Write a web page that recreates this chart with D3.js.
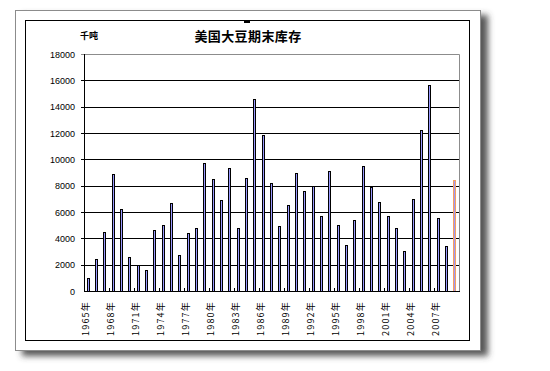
<!DOCTYPE html>
<html>
<head>
<meta charset="utf-8">
<script src="https://cdn.jsdelivr.net/npm/d3@7"></script>
<style>
  body { margin: 0; background: #fff; }
  svg { display: block; }
</style>
</head>
<body>
<div id="chart"></div>
<script>
// 美国大豆期末库存, 千吨
var years = d3.range(1965, 2010);
var stocks = [950, 2400, 4500, 8850, 6200, 2600, 1950, 1600, 4600, 5050,
              6650, 2770, 4370, 4750, 9700, 8480, 6880, 9320, 4750, 8560,
              14570, 11830, 8180, 4900, 6530, 8940, 7570, 7950, 5660, 9090,
              4980, 3530, 5430, 9470, 7900, 6730, 5660, 4820, 3020, 6960,
              12210, 15640, 5510, 3450, 8400];
var yTicks = [0, 2000, 4000, 6000, 8000, 10000, 12000, 14000, 16000, 18000];
var title = "美国大豆期末库存";
var unit = "千吨";

var width = 550;
var height = 371;
var plot = { left: 84, right: 459, top: 54, bottom: 291 };

var svg = d3.select("#chart").append("svg")
    .attr("width", width)
    .attr("height", height);

// drop shadow for the outer frame
var defs = svg.append("defs");
var f = defs.append("filter").attr("id", "shadow")
    .attr("x", "-5%").attr("y", "-5%").attr("width", "115%").attr("height", "115%");
f.append("feDropShadow")
    .attr("dx", 7).attr("dy", 5)
    .attr("stdDeviation", 3)
    .attr("flood-color", "#444")
    .attr("flood-opacity", 0.9);

svg.append("rect")
    .attr("x", 15.5).attr("y", 10.5)
    .attr("width", 465).attr("height", 340)
    .attr("fill", "#fff")
    .attr("stroke", "#8c8c8c")
    .attr("filter", "url(#shadow)");

svg.append("rect")
    .attr("x", 25.5).attr("y", 20.5)
    .attr("width", 444).attr("height", 320)
    .attr("fill", "#fff")
    .attr("stroke", "#000");

// little handle mark on top of the inner frame
svg.append("rect")
    .attr("x", 244).attr("y", 20)
    .attr("width", 6).attr("height", 3)
    .attr("fill", "#000");

svg.append("text")
    .attr("x", 248).attr("y", 41)
    .attr("text-anchor", "middle")
    .style("font-family", "'Noto Sans CJK SC', sans-serif")
    .style("font-size", "13px")
    .style("font-weight", "bold")
    .style("letter-spacing", "0.4px")
    .text(title);

svg.append("text")
    .attr("x", 89).attr("y", 39)
    .attr("text-anchor", "middle")
    .style("font-family", "'Noto Sans CJK SC', sans-serif")
    .style("font-size", "9px")
    .style("font-weight", "bold")
    .text(unit);

var x = d3.scaleBand()
    .domain(years)
    .range([plot.left, plot.right]);

var y = d3.scaleLinear()
    .domain([0, 18000])
    .range([plot.bottom, plot.top]);

// gridlines
svg.append("g")
    .selectAll("line")
    .data(yTicks.filter(function (d) { return d > 0 && d < 18000; }))
    .enter()
    .append("line")
    .attr("x1", plot.left - 3).attr("x2", plot.right)
    .attr("y1", function (d) { return Math.round(y(d)) + 0.5; })
    .attr("y2", function (d) { return Math.round(y(d)) + 0.5; })
    .attr("stroke", "#000");

// plot border top / right
svg.append("path")
    .attr("d", "M" + (plot.left - 3) + "," + (plot.top + 0.5) +
               "H" + (plot.right + 0.5) + "V" + plot.bottom)
    .attr("fill", "none")
    .attr("stroke", "#8c8c8c");

// y axis labels
svg.append("g")
    .selectAll("text")
    .data(yTicks)
    .enter()
    .append("text")
    .attr("x", plot.left - 9)
    .attr("y", function (d) { return y(d) + 3.5; })
    .attr("text-anchor", "end")
    .style("font-family", "'Liberation Sans', Arial, sans-serif")
    .style("font-size", "9px")
    .text(function (d) { return d; });

// bars
svg.append("g")
    .selectAll("rect")
    .data(stocks)
    .enter()
    .append("rect")
    .attr("x", function (d, i) { return Math.round(x(years[i]) + x.bandwidth() / 2 - 1.5) + 0.5; })
    .attr("y", function (d) { return Math.round(y(d)) + 0.5; })
    .attr("width", 2)
    .attr("height", function (d) { return Math.round(plot.bottom - y(d)); })
    .attr("fill", "#9999ff")
    .attr("stroke", function (d, i) { return i === stocks.length - 1 ? "#f5a060" : "#000"; });

// axis lines
svg.append("line")
    .attr("x1", plot.left + 0.5).attr("x2", plot.left + 0.5)
    .attr("y1", plot.top).attr("y2", plot.bottom + 1)
    .attr("stroke", "#000");
svg.append("line")
    .attr("x1", plot.left).attr("x2", plot.right + 1)
    .attr("y1", plot.bottom + 0.5).attr("y2", plot.bottom + 0.5)
    .attr("stroke", "#000");

// x ticks every 3 categories, pointing inward
svg.append("g")
    .selectAll("line")
    .data(years.filter(function (d, i) { return i % 3 === 0 && i > 0; }))
    .enter()
    .append("line")
    .attr("x1", function (d) { return Math.round(x(d)) + 0.5; })
    .attr("x2", function (d) { return Math.round(x(d)) + 0.5; })
    .attr("y1", plot.bottom - 3).attr("y2", plot.bottom)
    .attr("stroke", "#000");

// x labels, rotated
svg.append("g")
    .selectAll("text")
    .data(years.filter(function (d, i) { return i % 3 === 0; }))
    .enter()
    .append("text")
    .attr("transform", function (d) {
        return "translate(" + (x(d) + x.bandwidth() / 2 + 1) + "," + 301 + ") rotate(-90)";
    })
    .attr("text-anchor", "end")
    .style("font-family", "'Noto Sans CJK SC', sans-serif")
    .style("font-size", "9px")
    .style("letter-spacing", "1.2px")
    .text(function (d) { return d + "年"; });
</script>
</body>
</html>
